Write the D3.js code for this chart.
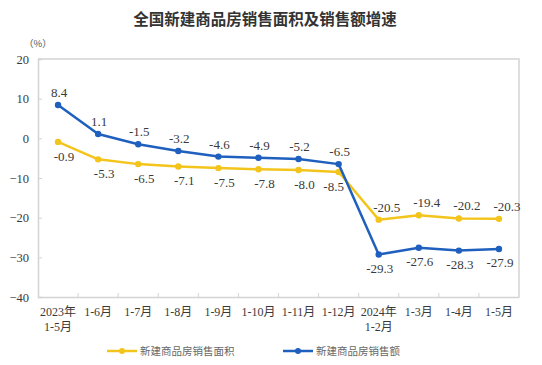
<!DOCTYPE html>
<html><head><meta charset="utf-8">
<script src="https://cdn.jsdelivr.net/npm/d3@7/dist/d3.min.js"></script>
<style>
html,body{margin:0;padding:0;background:#fff;}
svg{display:block;}
.serif{font-family:"Liberation Serif","DejaVu Serif","Noto Sans CJK SC",serif;}
</style></head>
<body><svg id="c" width="542" height="365"></svg>
<script>
const categories = [["2023年","1-5月"],["1-6月"],["1-7月"],["1-8月"],["1-9月"],["1-10月"],["1-11月"],["1-12月"],["2024年","1-2月"],["1-3月"],["1-4月"],["1-5月"]];
const areaGrowth = [-0.9,-5.3,-6.5,-7.1,-7.5,-7.8,-8.0,-8.5,-20.5,-19.4,-20.2,-20.3];
const salesGrowth = [8.4,1.1,-1.5,-3.2,-4.6,-4.9,-5.2,-6.5,-29.3,-27.6,-28.3,-27.9];
const yTicks = [20,10,0,-10,-20,-30,-40];
const seriesNames = ["新建商品房销售面积","新建商品房销售额"];
const title = "全国新建商品房销售面积及销售额增速";

const svg = d3.select("#c");
const m = {l:38, r:519, t:59, b:297};
const x = d3.scaleBand().domain(d3.range(categories.length)).range([m.l, m.r]);
const y = d3.scaleLinear().domain([-40,20]).range([m.b, m.t]);
const cx = i => x(i) + x.bandwidth()/2;
const axisCol = "#d4d4d4";
const textCol = "#3a3a3a";

svg.append("text").attr("x",265).attr("y",25).attr("text-anchor","middle")
  .attr("font-family","'Noto Sans CJK SC',sans-serif").attr("font-weight","bold")
  .attr("font-size",15.5).attr("fill","#333").text(title);
svg.append("text").attr("x",24).attr("y",47)
  .attr("font-family","'Noto Sans CJK SC',sans-serif").attr("font-size",9.5)
  .attr("fill","#555").text("（%）");

// frame
svg.append("path").attr("d",`M${m.l},${m.t}H${m.r}V${m.b}`).attr("fill","none")
  .attr("stroke",axisCol).attr("stroke-width",1.5);

// y axis
const ya = svg.append("g").attr("transform",`translate(${m.l},0)`)
  .call(d3.axisLeft(y).tickValues(yTicks).tickSize(-4).tickPadding(9));
ya.attr("font-family",null);
ya.select(".domain").attr("stroke",axisCol).attr("stroke-width",1.5);
ya.selectAll(".tick line").attr("stroke",axisCol);
ya.selectAll(".tick text").attr("class","serif").attr("font-size",12.5).attr("fill",textCol);

// x axis
const xa = svg.append("g").attr("transform",`translate(0,${m.b})`)
  .call(d3.axisBottom(x).tickSize(0).tickFormat(""));
xa.select(".domain").attr("stroke",axisCol).attr("stroke-width",1.5);
svg.append("g").selectAll("line").data(d3.range(1,categories.length)).join("line")
  .attr("x1",i=>x(i)).attr("x2",i=>x(i)).attr("y1",m.b).attr("y2",m.b-4)
  .attr("stroke",axisCol);
const xl = svg.append("g").selectAll("text").data(categories).join("text")
  .attr("x",(d,i)=>cx(i)).attr("y",316).attr("text-anchor","middle")
  .attr("class","serif").attr("font-size",12).attr("fill",textCol);
xl.selectAll("tspan").data(d=>d).join("tspan")
  .attr("x",function(){return this.parentNode.getAttribute("x");})
  .attr("dy",(d,j)=>j===0?0:15).text(d=>d);

const yellow = "#f3c51c", blue = "#1f5fbe";
const line = d3.line().x((d,i)=>cx(i)).y(d=>y(d));
function drawSeries(vals,col){
  svg.append("path").datum(vals).attr("d",line).attr("fill","none")
    .attr("stroke",col).attr("stroke-width",2.5).attr("stroke-linejoin","round");
  svg.append("g").selectAll("circle").data(vals).join("circle")
    .attr("cx",(d,i)=>cx(i)).attr("cy",d=>y(d)).attr("r",3.2).attr("fill",col);
}
drawSeries(areaGrowth,yellow);
drawSeries(salesGrowth,blue);

function labels(vals,isSales){
  svg.append("g").selectAll("text").data(vals).join("text")
    .attr("x",(d,i)=>{
      const above = isSales ? i<8 : i>=8;
      if(above) return cx(i) + (isSales ? 1 : 8);
      return cx(i) + (isSales ? 1 : (i===7 ? -5 : 6));
    })
    .attr("y",(d,i)=>{
      const above = isSales ? i<8 : i>=8;
      return y(d) + (above ? -8 : (isSales ? 18 : 19));
    })
    .attr("text-anchor","middle").attr("class","serif").attr("font-size",13)
    .attr("fill",textCol).text(d=>d.toFixed(1));
}
labels(areaGrowth,false);
labels(salesGrowth,true);

// legend
const legend = [{name:seriesNames[0],col:yellow,x:107},{name:seriesNames[1],col:blue,x:283}];
const lg = svg.append("g").selectAll("g").data(legend).join("g")
  .attr("transform",d=>`translate(${d.x},351)`);
lg.append("line").attr("x1",0).attr("x2",30).attr("stroke",d=>d.col).attr("stroke-width",2.5);
lg.append("circle").attr("cx",15).attr("r",3).attr("fill",d=>d.col);
lg.append("text").attr("x",33).attr("y",4).attr("font-family","'Noto Sans CJK SC',sans-serif")
  .attr("font-size",10.5).attr("fill","#666").text(d=>d.name);
</script></body></html>
